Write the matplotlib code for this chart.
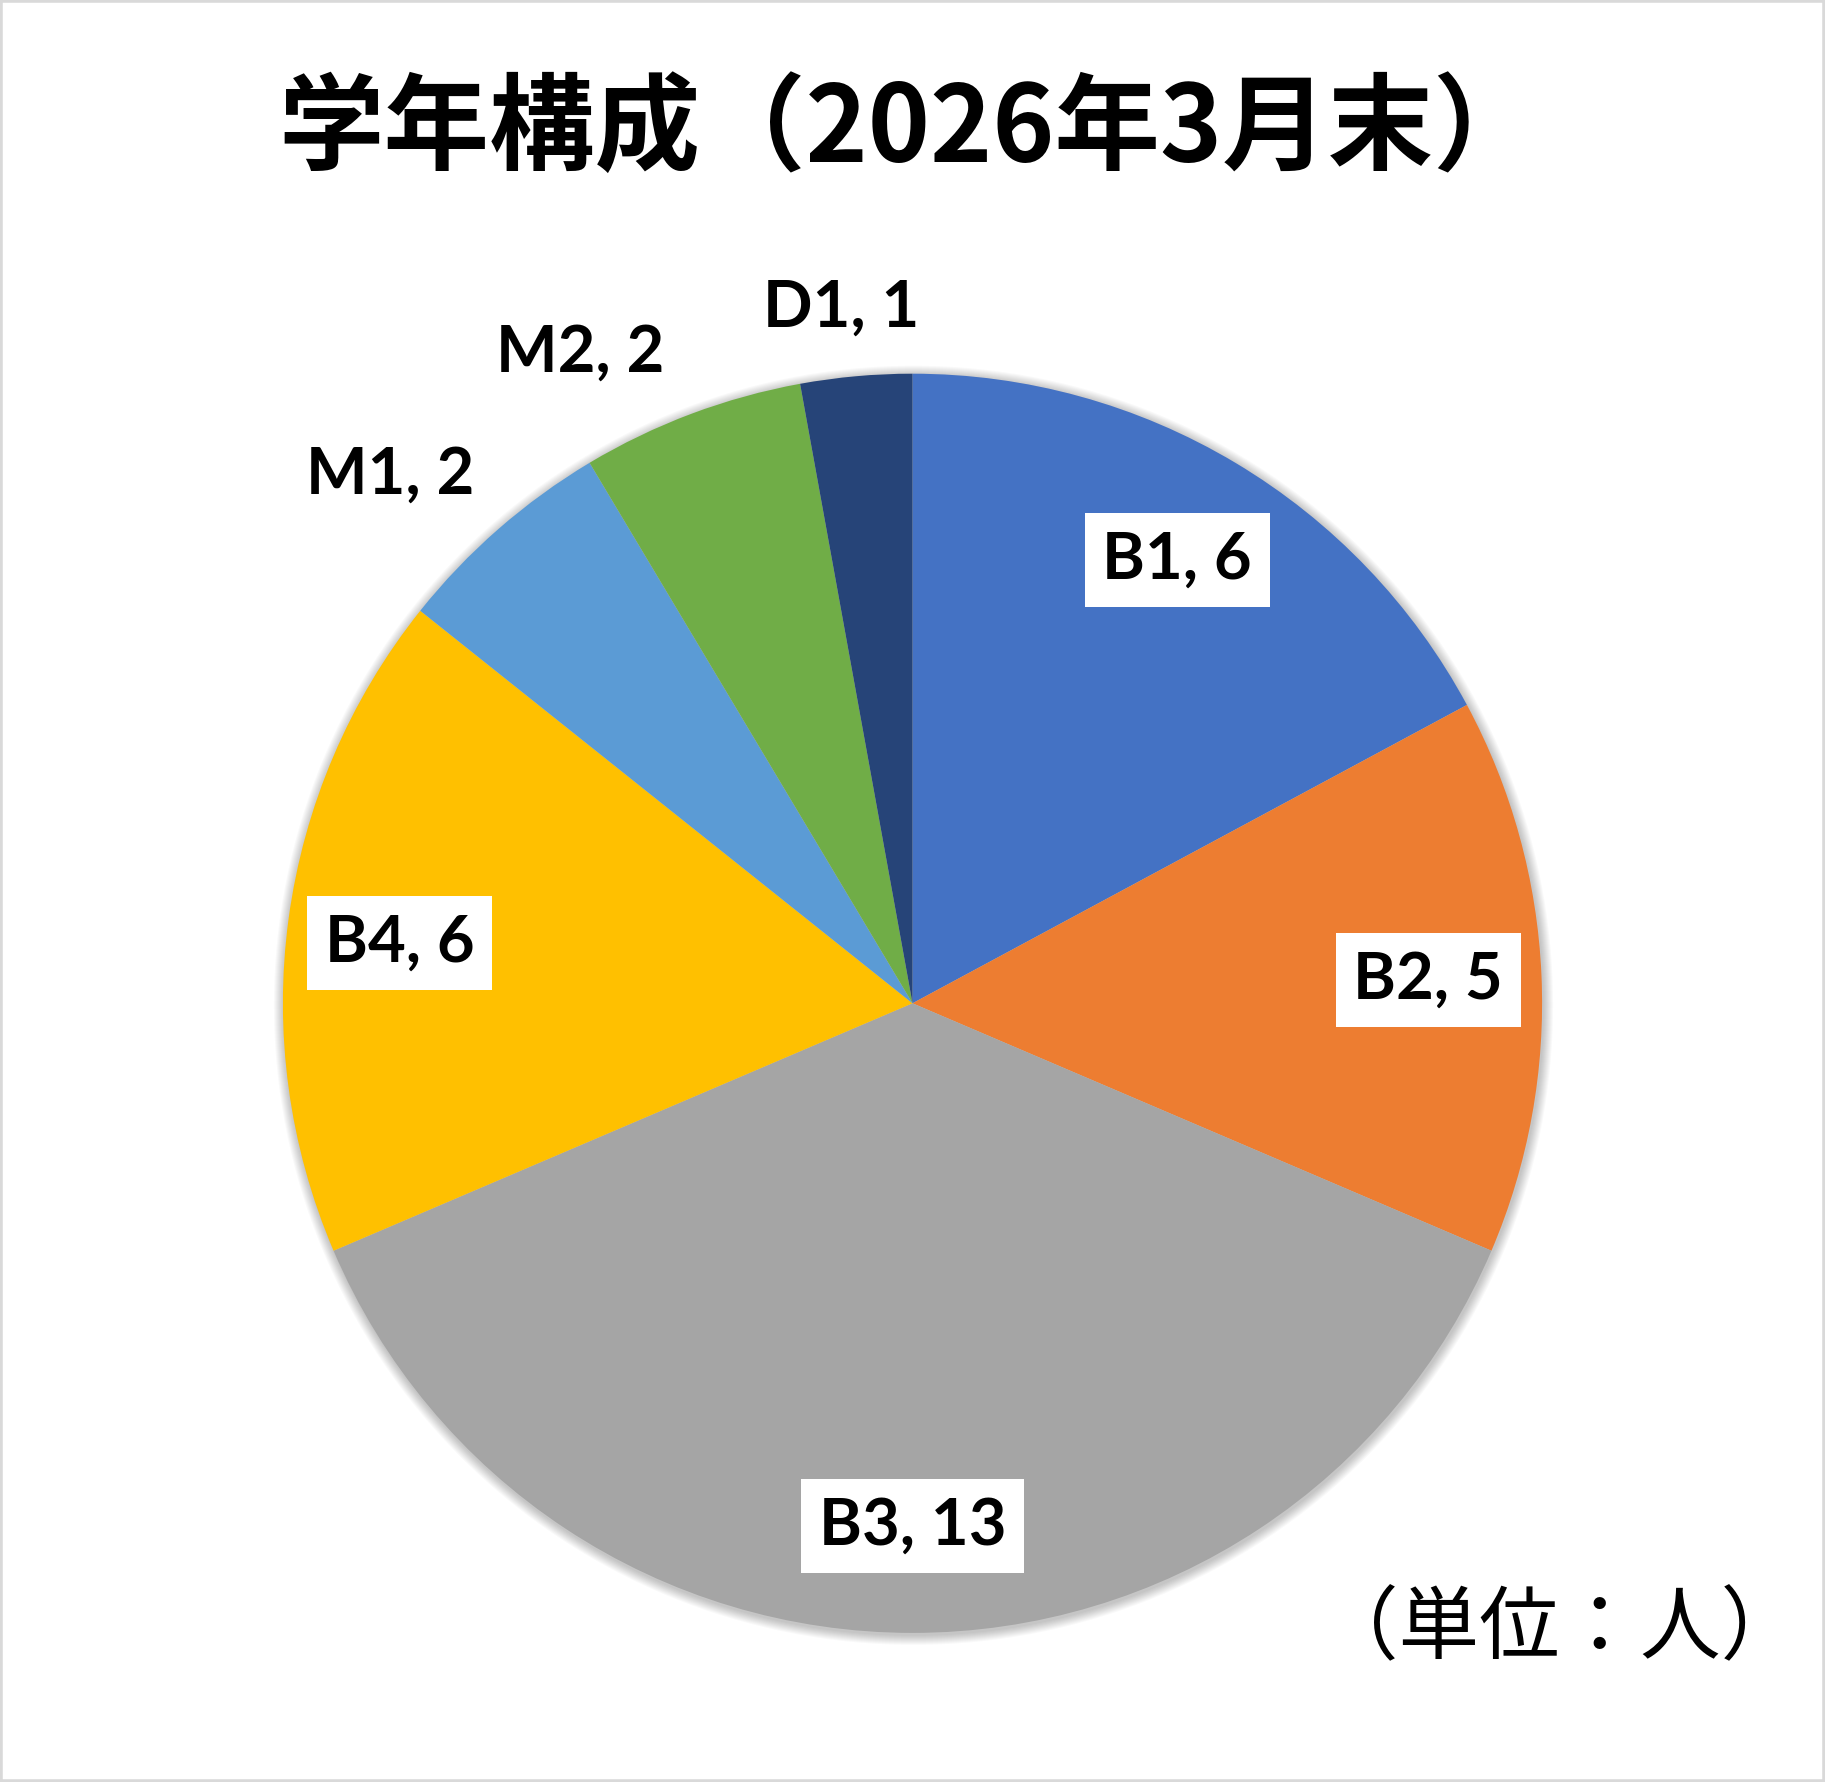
import numpy as np
import matplotlib
matplotlib.use("Agg")
import matplotlib.pyplot as plt
from matplotlib.patches import Circle, Rectangle

# data
grades = ["B1", "B2", "B3", "B4", "M1", "M2", "D1"]
counts = [6, 5, 13, 6, 2, 2, 1]
colors = ["#4472C4", "#ED7D31", "#A5A5A5", "#FFC000", "#5B9BD5", "#70AD47", "#264478"]
title = "学年構成（2026年3月末）"
unit_note = "（単位：人）"

# label layout: inside with white box, or outside
label_inside = [True, True, True, True, False, False, False]
label_radius = [0.82, 0.82, 0.83, 0.82, 1.18, 1.16, 1.11]
label_nudge_deg = [0, 0, 0, 1, 3.5, 6.5, 0.7]

W, H = 1825, 1782
fig = plt.figure(figsize=(W / 100, H / 100), dpi=100)
ax = fig.add_axes([0, 0, 1, 1])

cx, cy, r = 912.5, H - 1003.3, 629.6

# soft shadow around the pie
for i in range(10):
    ax.add_patch(Circle((cx + 1, cy - 2), r + 1 + i, color="#000000", alpha=0.025, lw=0, zorder=0))

wedges, _ = ax.pie(counts, colors=colors, startangle=90, counterclock=False,
                   center=(cx, cy), radius=r, frame=True,
                   wedgeprops=dict(linewidth=0))
ax.set_xlim(0, W)
ax.set_ylim(0, H)
ax.set_aspect("equal")
ax.set_axis_off()

label_font = "Lato"
total = sum(counts)
start = 90.0
for name, val, inside, rad, nudge in zip(grades, counts, label_inside, label_radius, label_nudge_deg):
    span = val / total * 360
    mid = np.deg2rad(start - span / 2 + nudge)
    start -= span
    x = cx + rad * r * np.cos(mid)
    y = cy + rad * r * np.sin(mid)
    kw = dict(ha="center", va="center", fontsize=47, fontweight="bold",
              family=[label_font, "DejaVu Sans"], color="black", zorder=5)
    if inside:
        kw["bbox"] = dict(boxstyle="square,pad=0.27", facecolor="white", edgecolor="none")
    ax.text(x, y, f"{name}, {val}", **kw)

cjk = ["Noto Sans CJK JP", "DejaVu Sans"]
fig.text(909 / W, 1 - 131 / H, title, ha="center", va="center",
         fontsize=76, fontweight="bold", family=cjk)
fig.text(1560 / W, 1 - 1630 / H, unit_note, ha="center", va="center",
         fontsize=58, family=cjk)

fig.patches.append(Rectangle((0, 0), 1, 1, transform=fig.transFigure, fill=False,
                             edgecolor="#D9D9D9", linewidth=4))

fig.savefig("out.png", dpi=100)
